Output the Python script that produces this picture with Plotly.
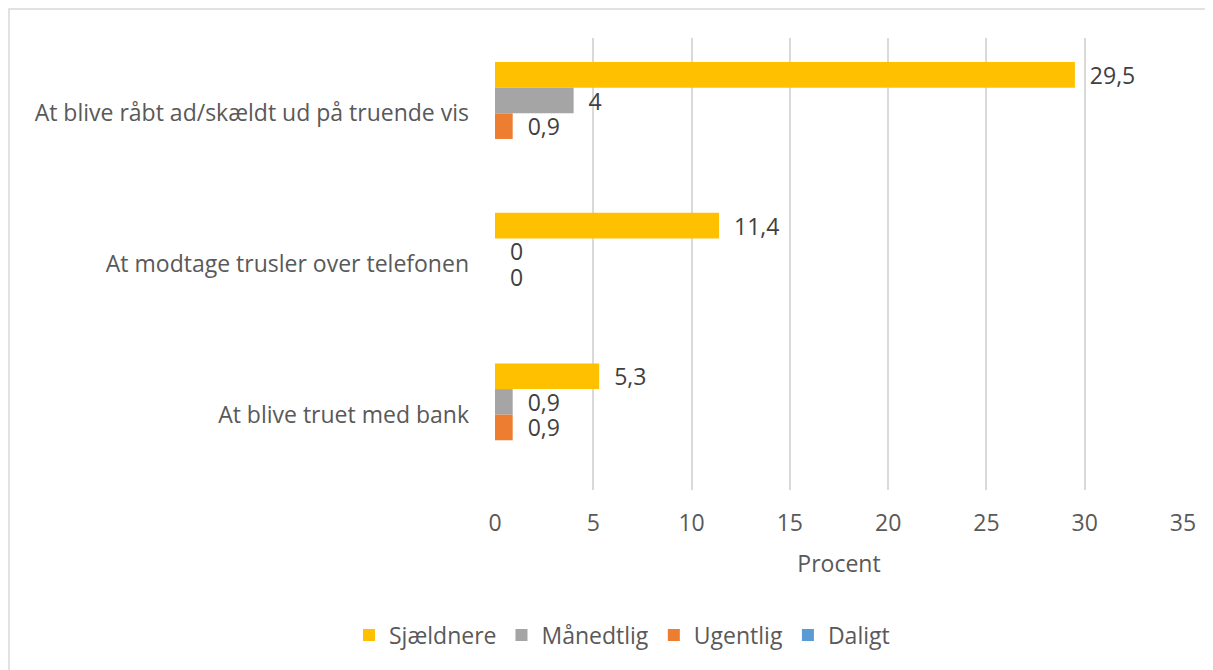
import plotly.graph_objects as go

categories = [
    "At blive råbt ad/skældt ud på truende vis",
    "At modtage trusler over telefonen",
    "At blive truet med bank",
]
series_names = ["Sjældnere", "Månedtlig", "Ugentlig", "Daligt"]
sjaeldnere = [29.5, 11.4, 5.3]
maanedtlig = [4, 0, 0.9]
ugentlig = [0.9, 0, 0.9]
daligt = [None, None, None]
colors = ["#FFC000", "#A5A5A5", "#ED7D31", "#5B9BD5"]
x_ticks = [0, 5, 10, 15, 20, 25, 30, 35]

FONT = "Open Sans"
TXT = "#595959"
FS = 23

W, H = 1205, 662
L, R, T, B = 487, 30, 30, 180


def fmt(v):
    if v is None:
        return ""
    return "\u00a0\u00a0" + (f"{v:g}".replace(".", ","))


fig = go.Figure()
for name, vals, col in zip(series_names, [sjaeldnere, maanedtlig, ugentlig, daligt], colors):
    fig.add_trace(go.Bar(
        name=name,
        y=categories,
        x=vals,
        orientation="h",
        marker=dict(color=col, line=dict(width=0)),
        text=[fmt(v) for v in vals],
        textposition="outside",
        constraintext="none",
        textfont=dict(family=FONT, size=FS, color="#404040"),
        cliponaxis=False,
    ))

pw = W - L - R
ph = H - T - B
fig.update_layout(
    width=W,
    height=H,
    paper_bgcolor="white",
    plot_bgcolor="white",
    barmode="group",
    bargap=0.32,
    bargroupgap=0,
    margin=dict(l=L, r=R, t=T, b=B),
    font=dict(family=FONT, size=FS, color=TXT),
    xaxis=dict(
        range=[0, 35],
        tickvals=x_ticks,
        showgrid=True,
        gridcolor="#D9D9D9",
        gridwidth=1.5,
        zeroline=False,
        showline=False,
        ticks="",
        ticklabelstandoff=17,
        tickfont=dict(family=FONT, size=FS, color=TXT),
        title=dict(text="Procent", font=dict(family=FONT, size=FS, color=TXT), standoff=18),
    ),
    yaxis=dict(
        autorange="reversed",
        showgrid=False,
        showline=False,
        zeroline=False,
        ticks="",
        ticklabelstandoff=25,
        tickfont=dict(family=FONT, size=FS, color=TXT),
    ),
    legend=dict(
        orientation="h",
        xref="container",
        yref="container",
        x=614 / W,
        y=1 - 627 / H,
        xanchor="center",
        yanchor="middle",
        font=dict(family=FONT, size=FS, color=TXT),
        traceorder="normal",
        itemwidth=30,
    ),
    showlegend=True,
    shapes=[dict(
        type="rect", xref="paper", yref="paper",
        x0=(1 - L) / pw, x1=1.2, y0=-1, y1=1 + (T - 1) / ph,
        line=dict(color="#D9D9D9", width=1.5), fillcolor="rgba(0,0,0,0)", layer="below",
    )],
)

fig.write_html("out.html")
